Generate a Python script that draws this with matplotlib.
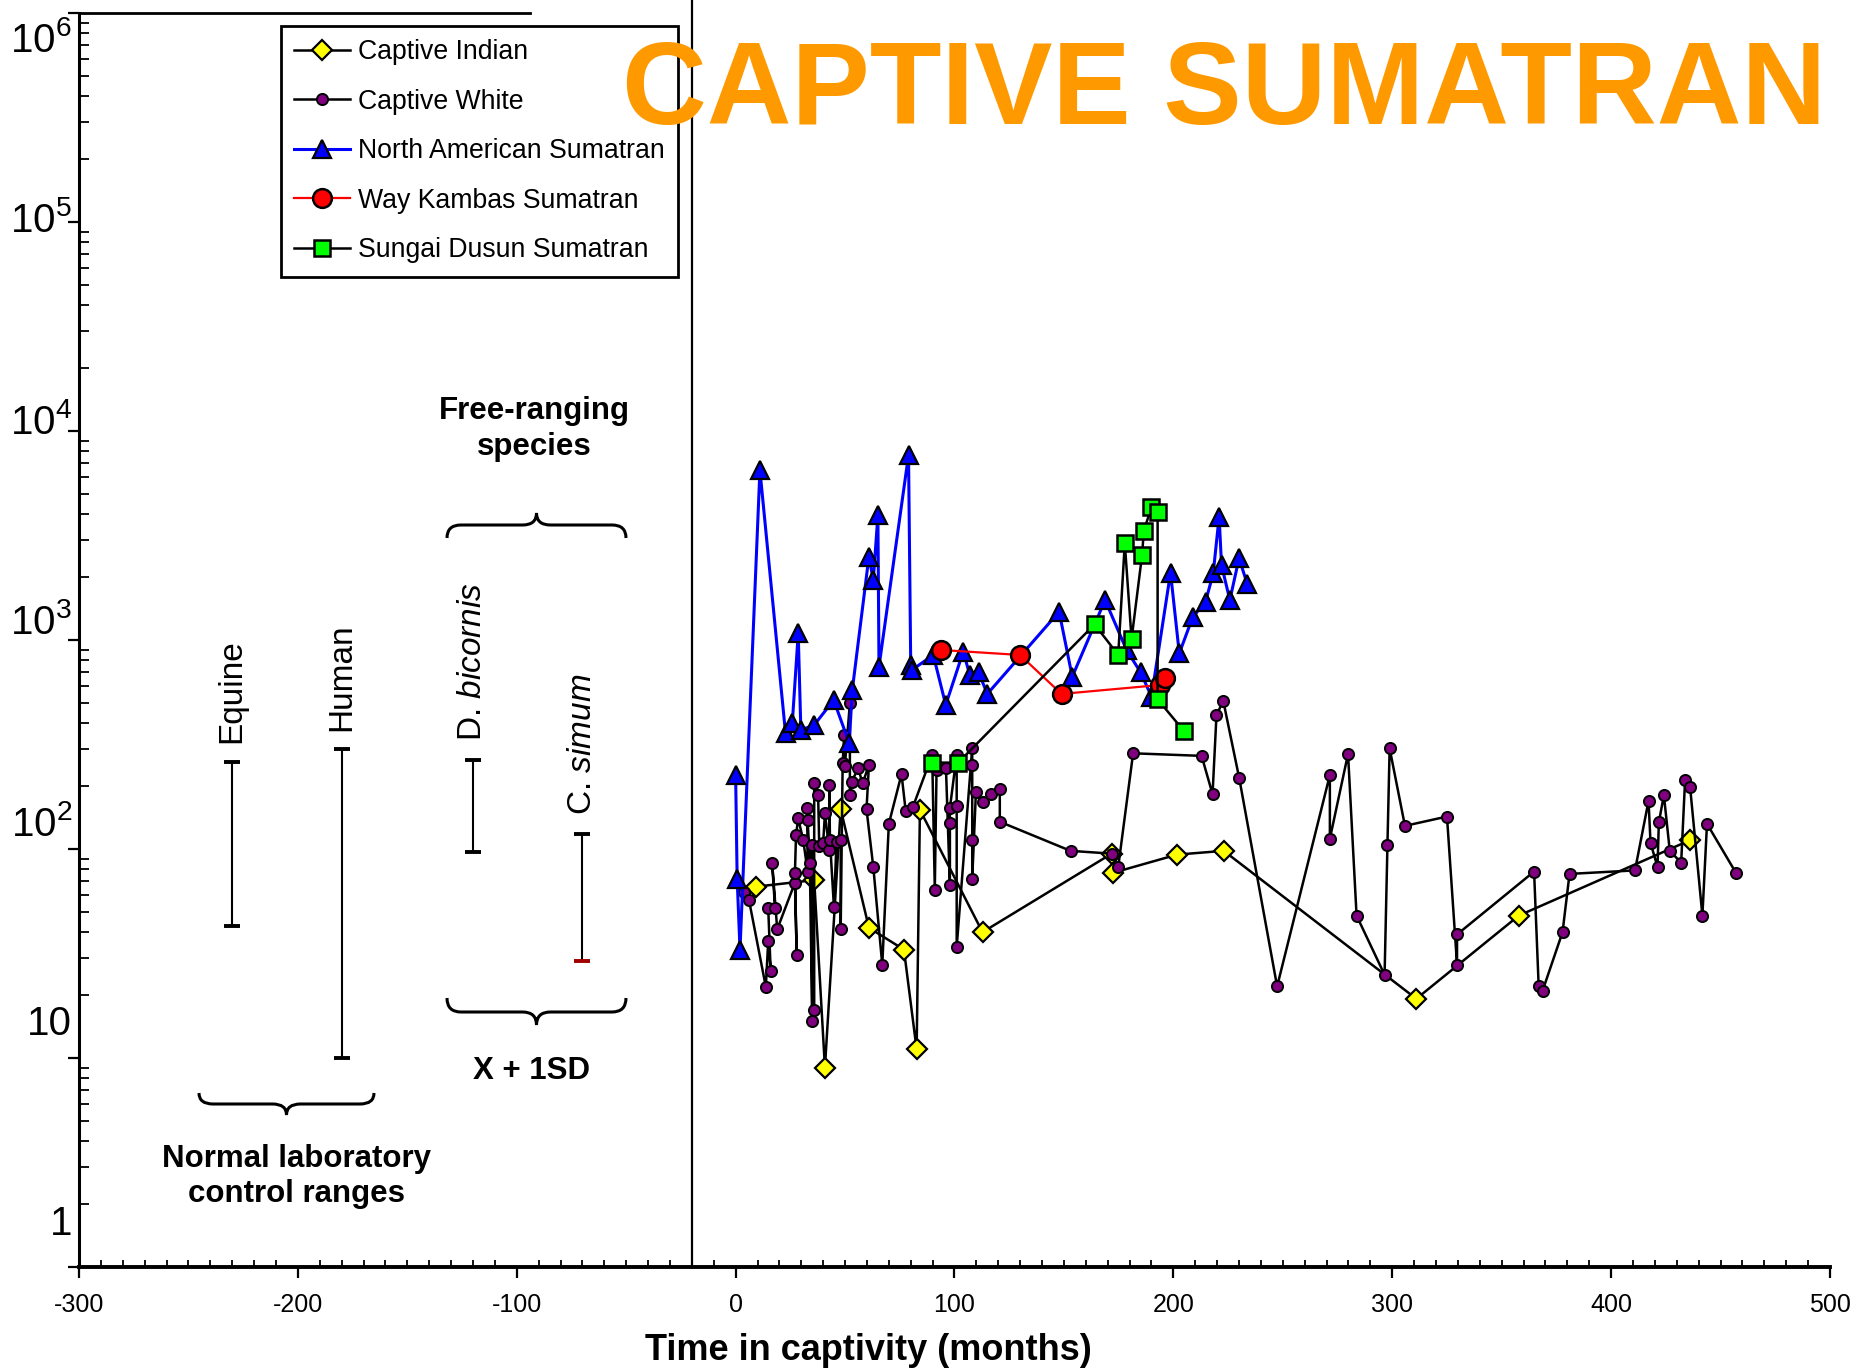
import matplotlib
matplotlib.use('Agg')
import matplotlib.pyplot as plt
from matplotlib.ticker import MultipleLocator, LogLocator, NullFormatter
from matplotlib.path import Path
from matplotlib.patches import PathPatch

plt.rcParams['font.family'] = ['Liberation Sans', 'DejaVu Sans']
plt.rcParams['mathtext.fontset'] = 'custom'
plt.rcParams['mathtext.rm'] = 'Liberation Sans'
plt.rcParams['mathtext.it'] = 'Liberation Sans:italic'
plt.rcParams['mathtext.bf'] = 'Liberation Sans:bold'
plt.rcParams['axes.unicode_minus'] = False

# ---------------- data ----------------
indian_x = [9.1, 35.9, 40.8, 48.0, 60.9, 76.9, 82.7, 84.2, 112.8, 171.8, 172.5,
            201.7, 223.0, 311.0, 357.8, 435.9]
indian_y = [66, 71, 9.0, 155, 42, 33, 11.0, 154, 40, 95, 77, 94, 98, 19.2, 48, 110]

white_x = [3.8, 6.1, 13.8, 14.9, 16.0, 14.9, 18.0, 16.7, 19.0, 27.1, 27.9, 27.1, 27.6,
           28.6, 30.9, 32.9, 32.7, 32.9, 33.9, 35.0, 34.7, 35.9, 35.9, 37.7, 38.2, 40.0,
           40.8, 42.8, 42.8, 43.1, 44.9, 46.1, 48.0, 48.0, 48.9, 49.6, 49.9, 52.2, 52.2,
           53.0, 56.0, 58.0, 60.9, 59.8, 62.9, 67.0, 70.0, 75.8, 77.7, 80.9, 89.8, 91.0,
           91.8, 96.1, 97.9, 97.9, 97.9, 101.0, 101.0, 101.0, 108.1, 108.1, 108.1, 108.1,
           109.8, 112.8, 116.9, 120.7, 120.7, 153.0, 171.8, 174.8, 181.6, 212.9, 217.9,
           219.7, 222.8, 230.1, 247.4, 271.5, 271.5, 279.8, 283.7, 296.5, 297.8, 298.8,
           305.8, 325.0, 329.6, 329.6, 364.8, 366.9, 368.7, 377.8, 381.0, 410.9, 417.1,
           418.0, 421.2, 421.8, 424.1, 426.8, 432.0, 433.8, 436.1, 441.7, 443.8, 457.0]
white_y = [62.5, 57, 21.9, 36.4, 26.2, 52, 52, 85.4, 41.3, 69, 31, 77, 117,
           140, 110, 78, 157, 138, 86, 15, 104, 17, 206, 181, 103, 107,
           148, 99, 202, 110, 53, 108, 110, 41.3, 257, 351, 250, 498, 181,
           210, 243, 206, 252, 155, 82, 27.9, 132, 228, 152, 158, 282, 64,
           239, 243, 67, 133, 157, 282, 161, 34, 305, 252, 110, 72,
           188, 167, 183, 193, 135, 98, 95, 82, 287, 279, 183,
           438, 511, 218, 22, 226, 112, 285, 48, 25, 104, 303,
           129, 143, 28, 39, 78, 22, 21, 40, 76, 79, 170,
           107, 82, 134, 181, 98, 86, 215, 197, 48, 132, 77]

na_x = [0, 0.7, 2, 11.1, 22.8, 25.9, 28.6, 29.8, 35.9, 44.8, 51.9, 53.3, 60.9, 62.9,
        65.0, 65.5, 79.0, 80.0, 80.5, 90.3, 96.0, 104.0, 107.0, 111.0, 115.0, 147.8,
        153.8, 168.8, 178.6, 185.0, 190.0, 198.7, 202.7, 208.8, 214.7, 218.2, 220.9,
        222.0, 225.8, 230.0, 233.7]
na_y = [226, 72, 33, 6500, 358, 402, 1076, 371, 392, 516, 321, 576, 2505, 1936,
        3964, 745, 7675, 760, 718, 848, 489, 880, 680, 700, 552, 1366,
        667, 1553, 896, 701, 536, 2100, 863, 1284, 1525, 2084, 3890,
        2282, 1553, 2460, 1862]

wk_x = [93.8, 129.9, 148.9, 193.8, 196.1]
wk_y = [896, 848, 552, 609, 656]

sd_x = [89.8, 101.7, 164.0, 174.8, 177.8, 180.9, 185.7, 186.5, 190.0, 192.8, 192.8, 205.0]
sd_y = [259, 259, 1188, 848, 2904, 1011, 2553, 3337, 4315, 4083, 520, 365]

range_x = [-230, -180, -120, -70]
range_lo = [43, 10, 97, 29]
range_hi = [262, 300, 267, 118]
range_names = ['Equine', 'Human', r'D. $\mathit{bicornis}$', r'C. $\mathit{simum}$']

series_labels = ['Captive Indian', 'Captive White', 'North American Sumatran',
                 'Way Kambas Sumatran', 'Sungai Dusun Sumatran']
ytick_texts = ['1', '10', r'$\mathregular{10^{2}}$', r'$\mathregular{10^{3}}$',
               r'$\mathregular{10^{4}}$', r'$\mathregular{10^{5}}$', r'$\mathregular{10^{6}}$']

# ---------------- layout ----------------
W, H, DPI = 1854, 1369, 100
L, R, B, T = 79, 1830, 1267, 13
fig = plt.figure(figsize=(W / DPI, H / DPI), dpi=DPI)
ax = fig.add_axes([L / W, (H - B) / H, (R - L) / W, (B - T) / H])
ax.set_xlim(-300, 500)
ax.set_yscale('log')
ax.set_ylim(1, 1e6)

def fx(px):
    return px / W

def fy(py):
    return 1 - py / H

# series
ax.plot(indian_x, indian_y, color='black', lw=1.8, marker='D', ms=10,
        mfc='#FFFF00', mec='black', mew=1.6, label=series_labels[0], zorder=3)
ax.plot(white_x, white_y, color='black', lw=1.8, marker='o', ms=8,
        mfc='#800080', mec='black', mew=1.4, label=series_labels[1], zorder=4)
ax.plot(na_x, na_y, color='#0000FF', lw=2.2, marker='^', ms=13.5,
        mfc='#0000FF', mec='black', mew=1.6, label=series_labels[2], zorder=5)
ax.plot(wk_x, wk_y, color='#FF0000', lw=1.6, marker='o', ms=13.5,
        mfc='#FF0000', mec='black', mew=1.8, label=series_labels[3], zorder=6)
ax.plot(sd_x, sd_y, color='black', lw=1.8, marker='s', ms=11.5,
        mfc='#00FF00', mec='black', mew=1.8, label=series_labels[4], zorder=7)

# reference ranges
for i, (x, lo, hi, name) in enumerate(zip(range_x, range_lo, range_hi, range_names)):
    ax.plot([x, x], [lo, hi], color='black', lw=1.5, zorder=3)
    ax.plot([x], [hi], marker='_', ms=11, mew=2.8, color='black', zorder=3)
    ax.plot([x], [lo], marker='_', ms=11, mew=2.8,
            color='#A00000' if i == 3 else 'black', zorder=3)
    ax.annotate(name, xy=(x, hi), xytext=(0, 13.5), textcoords='offset points',
                rotation=90, ha='center', va='bottom', fontsize=24)

# axes styling
for s in ['top', 'right']:
    ax.spines[s].set_visible(False)
ax.spines['left'].set_linewidth(2.2)
ax.spines['bottom'].set_linewidth(2.8)
ax.plot([-300, -94], [1e6, 1e6], color='black', lw=2.0, clip_on=False)
ax.plot([-20, -20], [1, 1.25e6], color='black', lw=1.6, clip_on=False)

ax.xaxis.set_major_locator(MultipleLocator(100))
ax.xaxis.set_minor_locator(MultipleLocator(10))
ax.tick_params(axis='x', which='major', direction='out', length=8, width=1.6,
               labelsize=18, pad=11)
ax.tick_params(axis='x', which='minor', direction='in', length=5, width=1.3)
ax.yaxis.set_major_locator(LogLocator(base=10, numticks=10))
ax.yaxis.set_minor_locator(LogLocator(base=10, subs=range(2, 10), numticks=10))
ax.yaxis.set_minor_formatter(NullFormatter())
ax.tick_params(axis='y', which='major', direction='out', length=8, width=1.6,
               labelleft=False)
ax.tick_params(axis='y', which='minor', direction='in', length=7, width=1.3)

ylabel_px = [1224, 1024, 824, 623, 423, 221, 40]
for txt, py in zip(ytick_texts, ylabel_px):
    fig.text(fx(72), fy(py), txt, ha='right', va='center', fontsize=29)

# x label
fig.text(fx(868), fy(1350), 'Time in captivity (months)', ha='center', va='center',
         fontsize=26, fontweight='bold')

# title
fig.text(fx(1224), fy(124), 'CAPTIVE SUMATRAN', ha='center', va='baseline',
         fontsize=84.5, fontweight='bold', color='#FF9900', zorder=10)

# braces
def brace(x1, x2, ye, ym, yt):
    xc = (x1 + x2) / 2.0
    r = 14
    verts = [(x1, ye), (x1, ym), (x1 + r, ym), (xc - r, ym), (xc, ym), (xc, yt),
             (xc, ym), (xc + r, ym), (x2 - r, ym), (x2, ym), (x2, ye)]
    codes = [Path.MOVETO, Path.CURVE3, Path.CURVE3, Path.LINETO, Path.CURVE3,
             Path.CURVE3, Path.CURVE3, Path.CURVE3, Path.LINETO, Path.CURVE3,
             Path.CURVE3]
    verts = [(fx(a), fy(b)) for a, b in verts]
    fig.patches.append(PathPatch(Path(verts, codes), transform=fig.transFigure,
                                 fill=False, lw=2.2, edgecolor='black'))

brace(447, 626, 538, 525, 513)
brace(447, 626, 998, 1012, 1025)
brace(199, 374, 1093, 1104, 1115)

bold_fs = 22.5
fig.text(fx(534), fy(411), 'Free-ranging', ha='center', va='center',
         fontsize=bold_fs, fontweight='bold')
fig.text(fx(534), fy(447), 'species', ha='center', va='center',
         fontsize=bold_fs, fontweight='bold')
fig.text(fx(532), fy(1071), 'X + 1SD', ha='center', va='center',
         fontsize=bold_fs, fontweight='bold')
fig.text(fx(297), fy(1159), 'Normal laboratory', ha='center', va='center',
         fontsize=bold_fs, fontweight='bold')
fig.text(fx(297), fy(1194), 'control ranges', ha='center', va='center',
         fontsize=bold_fs, fontweight='bold')

# legend
leg = ax.legend(loc='upper left', bbox_to_anchor=((281 - L) / (R - L), (B - 26) / (B - T)),
                borderaxespad=0, frameon=True, fancybox=False, edgecolor='black',
                framealpha=1, fontsize=19.2, handlelength=2.1, handletextpad=0.3,
                labelspacing=0.88, borderpad=0.5, numpoints=1)
leg.get_frame().set_linewidth(2.0)
leg.set_zorder(8)

fig.savefig('out.png', dpi=DPI, facecolor='white')
